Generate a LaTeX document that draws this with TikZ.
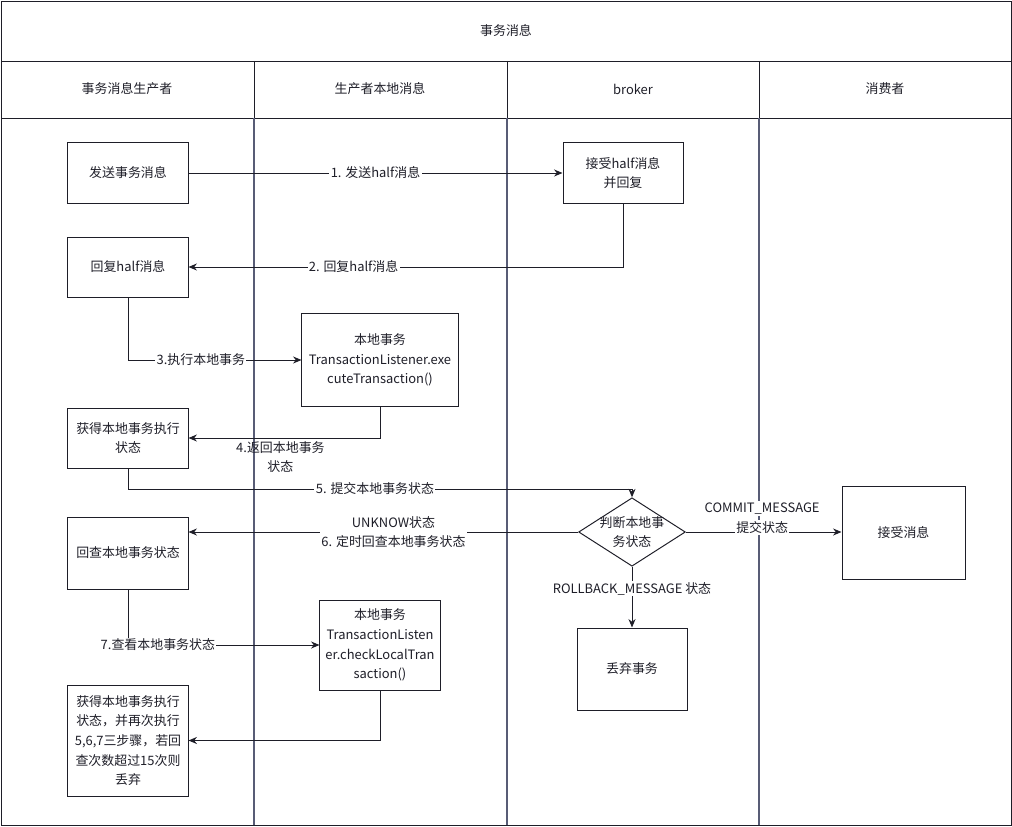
\documentclass[tikz,border=0pt]{standalone}
\usepackage{fontspec}
\setmainfont{Noto Sans CJK SC}
\usetikzlibrary{shapes.geometric,arrows.meta}
\definecolor{ink}{RGB}{30,30,40}
\definecolor{lanegrey}{RGB}{88,92,118}
\setlength{\fboxsep}{1pt}
\newcommand{\lbg}[1]{\colorbox{white}{#1}}
\begin{document}
\begin{tikzpicture}[x=0.025cm, y=-0.025cm, line width=0.7pt, draw=ink, text=ink,
  font=\fontsize{9.2}{14}\selectfont,
  >={Stealth[length=6pt,width=5pt]},
  box/.style={rectangle, draw, align=center, minimum width=3cm, minimum height=1.5cm, inner sep=1pt},
  lbl/.style={fill=white, inner sep=1pt, align=center}]
\useasboundingbox (0,0) rectangle (1012,827);
% frame and lanes
\draw (1,1) rectangle (1011,825);
\draw (1,61) -- (1011,61);
\draw (1,118) -- (1011,118);
\foreach \x in {254,507,759} {
  \draw (\x,61) -- (\x,118);
  \draw[lanegrey, line width=1.5pt] (\x,118.5) -- (\x,824.5);
}
\node (title) at (506,31) {事务消息};
\node (hprod) at (127,89) {事务消息生产者};
\node (hlocal) at (380,89) {生产者本地消息};
\node (hbroker) at (633,89) {broker};
\node (hcons) at (885,89) {消费者};
% steps
\node (send) at (128,173) [box] {发送事务消息};
\node (recv) at (623,173) [box] {接受half消息\\并回复};
\node (reply) at (128,267) [box] {回复half消息};
\node (exec) at (380,360) [box, minimum width=3.9cm, minimum height=2.3cm] {本地事务\\TransactionListener.exe\\cuteTransaction()};
\node (got) at (128,438) [box] {获得本地事务执行\\状态};
\node (judge) at (632,532) [diamond, draw, aspect=1.56, inner sep=-1pt, align=center] {判断本地事\\务状态};
\node (consume) at (903.5,533) [box, minimum width=3.075cm, minimum height=2.3cm] {接受消息};
\node (drop) at (632,669) [box, minimum width=2.75cm, minimum height=2.05cm] {丢弃事务};
\node (check) at (128,553) [box, minimum height=1.8cm] {回查本地事务状态};
\node (ltc) at (380,645) [box, minimum height=2.25cm] {本地事务\\TransactionListen\\er.checkLocalTran\\saction()};
\node (final) at (128,740.5) [box, minimum height=2.775cm] {获得本地事务执行\\状态，并再次执行\\5,6,7三步骤，若回\\查次数超过15次则\\丢弃};
\coordinate (c5) at (632,489);
% connectors
\draw[->] (send) -- (recv) node[lbl, pos=0.5] {1. 发送half消息};
\draw[->] (recv.south) |- (reply.east) node[lbl, pos=0.81] {2. 回复half消息};
\draw[->] (reply.south) |- (exec.west) node[lbl, pos=0.71] {3.执行本地事务};
\draw[->] (exec.south) |- (got.east) node[pos=0.76, below, align=center, inner sep=2pt] {4.返回本地事务\\状态};
\draw[->] (got.south) |- (c5) node[lbl, pos=0.745] {5. 提交本地事务状态} -- (judge.north);
\draw[->] (judge.west) -- (judge.west -| check.east) node[lbl, pos=0.474] {UNKNOW状态\\6. 定时回查本地事务状态};
\draw[->] (check.south) |- (ltc.west) node[lbl, pos=0.578] {7.查看本地事务状态};
\draw[->] (ltc.south) |- (final.east);
\draw[->] (judge.east) -- (judge.east -| consume.west) node[pos=0.49, yshift=10pt, inner sep=0pt, align=center] {\lbg{COMMIT\_MESSAGE}\\\lbg{提交状态}};
\draw[->] (judge.south) -- (drop.north) node[lbl, pos=0.36] {ROLLBACK\_MESSAGE 状态};
\end{tikzpicture}
\end{document}
